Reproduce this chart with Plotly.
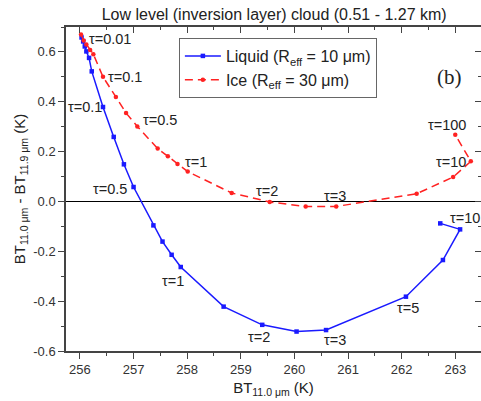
import plotly.graph_objects as go

# ---- data ----
liquid_x = [256.03, 256.06, 256.09, 256.12, 256.17, 256.22, 256.43, 256.63, 256.82, 257.00,
            257.37, 257.54, 257.71, 257.88, 258.68, 259.40, 260.04, 260.59, 262.08, 262.77,
            263.09, 262.72]
liquid_y = [0.658, 0.642, 0.622, 0.602, 0.576, 0.522, 0.379, 0.259, 0.149, 0.058,
            -0.096, -0.161, -0.214, -0.263, -0.422, -0.495, -0.522, -0.516, -0.382, -0.235,
            -0.112, -0.088]

ice_x = [256.02, 256.07, 256.12, 256.19, 256.25, 256.43, 256.67, 256.86, 257.07, 257.45,
         257.64, 257.82, 258.01, 258.83, 259.54, 260.21, 260.78, 262.28, 262.96, 263.29,
         263.00]
ice_y = [0.670, 0.646, 0.630, 0.608, 0.591, 0.500, 0.419, 0.355, 0.301, 0.212,
         0.181, 0.150, 0.120, 0.034, -0.002, -0.020, -0.020, 0.031, 0.098, 0.161,
         0.268]

liquid_labels = ["τ=0.1", "τ=0.5", "τ=1", "τ=2", "τ=3", "τ=5", "τ=10"]
liquid_label_x = [256.09, 256.56, 257.74, 259.34, 260.76, 262.12, 263.18]
liquid_label_y = [0.380, 0.051, -0.318, -0.543, -0.555, -0.427, -0.065]

ice_labels = ["τ=0.01", "τ=0.1", "τ=0.5", "τ=1", "τ=2", "τ=3", "τ=10", "τ=100"]
ice_label_x = [256.56, 256.84, 257.49, 258.16, 259.49, 260.76, 262.92, 262.85]
ice_label_y = [0.653, 0.501, 0.328, 0.159, 0.043, 0.023, 0.159, 0.308]

x_range = [255.74, 263.48]
y_range = [-0.6, 0.70]
x_ticks = [256, 257, 258, 259, 260, 261, 262, 263]
y_ticks = [-0.6, -0.4, -0.2, 0.0, 0.2, 0.4, 0.6]
y_ticklabels = ["-0.6", "-0.4", "-0.2", "0.0", "0.2", "0.4", "0.6"]

FONT = "Liberation Sans, Arial, sans-serif"

fig = go.Figure()
fig.add_trace(go.Scatter(
    x=liquid_x, y=liquid_y, mode="lines+markers",
    name="Liquid (R<sub>eff</sub> = 10 μm)",
    line=dict(color="#1a1aff", width=1.5),
    marker=dict(symbol="square", size=4.5, color="#1a1aff"),
))
fig.add_trace(go.Scatter(
    x=ice_x, y=ice_y, mode="lines+markers",
    name="Ice (R<sub>eff</sub> = 30 μm)",
    line=dict(color="#ff2222", width=1.5, dash="8px,5px"),
    marker=dict(symbol="circle", size=4.5, color="#ff2222"),
))
# mirror axes (top/right) with inward ticks
fig.add_trace(go.Scatter(x=[None], y=[None], xaxis="x2", yaxis="y2",
                         showlegend=False, hoverinfo="skip"))

annotations = []
for t, x, y in zip(liquid_labels + ice_labels,
                   liquid_label_x + ice_label_x,
                   liquid_label_y + ice_label_y):
    annotations.append(dict(x=x, y=y, xref="x", yref="y", text=t, showarrow=False,
                            font=dict(family=FONT, size=14.5, color="#222")))
annotations.append(dict(x=262.90, y=0.50, xref="x", yref="y", text="(b)", showarrow=False,
                        font=dict(family="Liberation Serif, Times New Roman, serif", size=21,
                                  color="#222")))

axis_common = dict(showgrid=False, linecolor="#444", linewidth=1.5,
                   tickcolor="#444", tickwidth=1.2, automargin=False)

fig.update_layout(
    width=481, height=401,
    margin=dict(l=66, r=0, t=27, b=50, autoexpand=False),
    paper_bgcolor="white", plot_bgcolor="white",
    title=dict(text="Low level (inversion layer) cloud (0.51 - 1.27 km)",
               x=0.57, xanchor="center", y=0.963, yanchor="middle", automargin=False,
               font=dict(family=FONT, size=16, color="#222")),
    xaxis=dict(range=x_range, tickvals=x_ticks, ticks="outside", ticklen=6,
               minor=dict(dtick=0.5, ticks="outside", ticklen=3, tickcolor="#444"),
               tickfont=dict(family=FONT, size=13, color="#333"),
               title=dict(text="BT<sub>11.0 μm</sub> (K)", standoff=6,
                          font=dict(family=FONT, size=15, color="#222")),
               zeroline=False, showline=True, **axis_common),
    yaxis=dict(range=y_range, tickvals=y_ticks, ticktext=y_ticklabels,
               ticks="outside", ticklen=6,
               minor=dict(dtick=0.1, ticks="outside", ticklen=3, tickcolor="#444"),
               tickfont=dict(family=FONT, size=13, color="#333"),
               title=dict(text="BT<sub>11.0 μm</sub> - BT<sub>11.9 μm</sub> (K)", standoff=4,
                          font=dict(family=FONT, size=15, color="#222")),
               zeroline=True, zerolinecolor="black", zerolinewidth=1.2,
               showline=True, **axis_common),
    xaxis2=dict(range=x_range, overlaying="x", side="top", tickvals=x_ticks,
                ticks="inside", ticklen=6, showticklabels=False,
                minor=dict(dtick=0.5, ticks="inside", ticklen=3, tickcolor="#444"),
                zeroline=False, showline=True, **axis_common),
    yaxis2=dict(range=y_range, overlaying="y", side="right", tickvals=y_ticks,
                ticks="inside", ticklen=6, showticklabels=False,
                minor=dict(dtick=0.1, ticks="inside", ticklen=3, tickcolor="#444"),
                zeroline=False, showline=True, **axis_common),
    legend=dict(x=0.272, y=0.966, xanchor="left", yanchor="top",
                bordercolor="#666", borderwidth=1, bgcolor="white",
                font=dict(family=FONT, size=16, color="#222"),
                tracegroupgap=0, itemwidth=36),
    annotations=annotations,
    showlegend=True,
)

fig.write_html("out.html", config={"displayModeBar": False},
               post_script="document.body.style.margin='0';document.body.style.overflow='hidden';")
